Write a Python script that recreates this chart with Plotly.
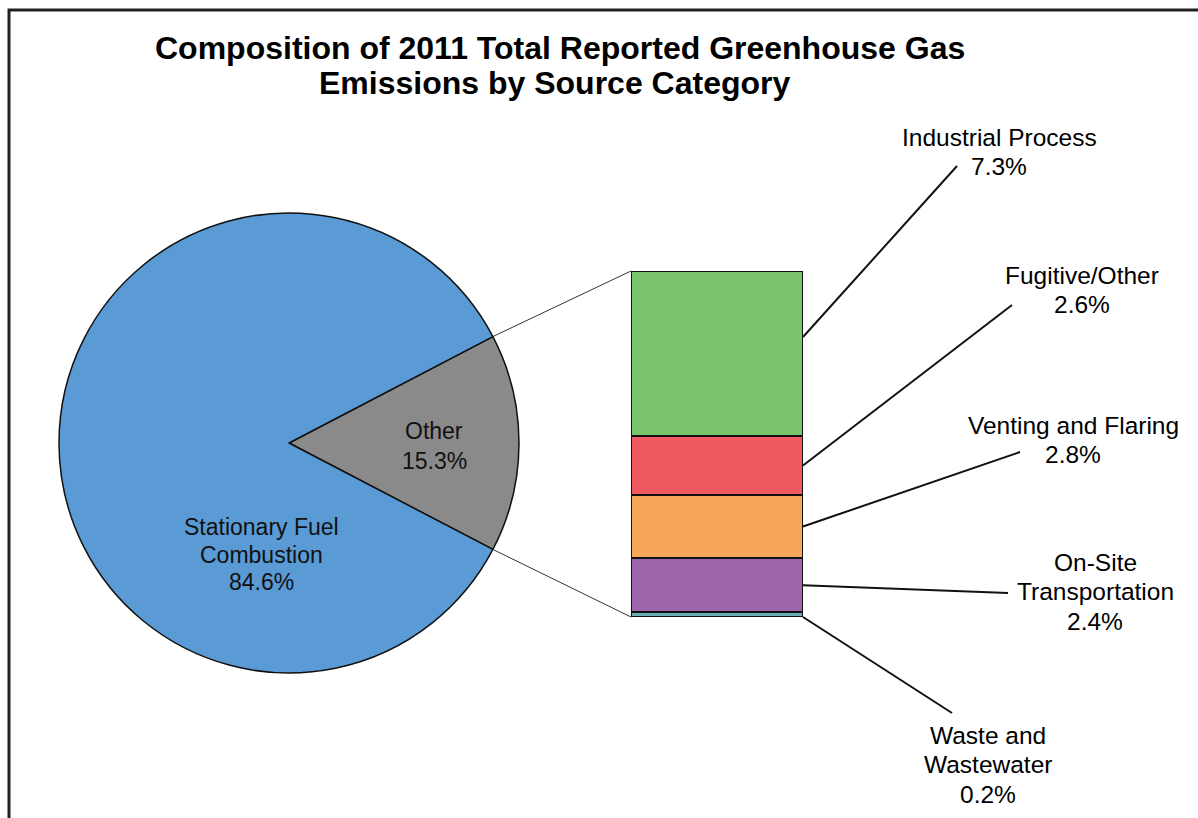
import math
import plotly.graph_objects as go

# ---- data -------------------------------------------------------------
pie_labels = ["Other", "Stationary Fuel Combustion"]
pie_values = [15.3, 84.6]
pie_colors = ["#8A8A8A", "#5B9BD5"]

other_labels = ["Industrial Process", "Fugitive/Other", "Venting and Flaring",
                "On-Site Transportation", "Waste and Wastewater"]
other_values = [7.3, 2.6, 2.8, 2.4, 0.2]
other_colors = ["#7BC46E", "#F0595F", "#F8A75A", "#9E66AA", "#6AAFB6"]

title_lines = ["Composition of 2011 Total Reported Greenhouse Gas",
               "Emissions by Source Category"]

# ---- layout (pixels in a 1198 x 818 canvas) ---------------------------
W, H = 1198, 818
PIE_CX, PIE_CY, PIE_R = 289, 443, 230
BAR_X0, BAR_X1, BAR_Y0, BAR_Y1 = 631, 803, 271, 617

FONT = "Liberation Sans, Arial, sans-serif"


def px(x):
    return x / W


def py(y):
    return 1 - y / H


other_total = sum(other_values)
pie_total = sum(pie_values)
other_angle = pie_values[0] / pie_total * 360.0
half = other_angle / 2.0

fig = go.Figure()

# pie: "Other" slice centred on the 3 o'clock direction
fig.add_trace(go.Pie(
    labels=pie_labels,
    values=pie_values,
    sort=False,
    direction="clockwise",
    rotation=90 - half,
    marker=dict(colors=pie_colors, line=dict(color="#111111", width=1.5)),
    textinfo="none",
    hoverinfo="label+percent",
    showlegend=False,
    domain=dict(x=[px(PIE_CX - PIE_R), px(PIE_CX + PIE_R)],
                y=[py(PIE_CY + PIE_R), py(PIE_CY - PIE_R)]),
))

# stacked breakdown bar of the "Other" slice
for lab, val, col in zip(other_labels, other_values, other_colors):
    fig.add_trace(go.Bar(
        x=[0], y=[val], name=lab, width=1,
        marker=dict(color=col, line=dict(color="#111111", width=2.2)),
        showlegend=False, xaxis="x", yaxis="y",
        hovertemplate=lab + ": %{y}%<extra></extra>",
    ))

shapes = []
annotations = []

# connectors from the "Other" slice edges to the bar corners
for sgn, by in ((1, BAR_Y0), (-1, BAR_Y1)):
    a = math.radians(half) * sgn
    sx = PIE_CX + PIE_R * math.cos(a)
    sy = PIE_CY - PIE_R * math.sin(a)
    shapes.append(dict(type="line", xref="paper", yref="paper",
                       x0=px(sx), y0=py(sy), x1=px(BAR_X0), y1=py(by),
                       line=dict(color="#333333", width=1)))


def bar_pix(v):
    return BAR_Y0 + (BAR_Y1 - BAR_Y0) * v / other_total


# label layout: (centre x, first line y, line end x, line end y, anchor fraction)
label_layout = [
    (999, 137, 957, 166, 0.40),
    (1082, 275, 1012, 305, 0.50),
    (1073, 425, 1020, 452, 0.50),
    (1095, 562, 1008, 593, 0.50),
    (988, 735, 952, 713, 1.00),
]
label_lines = [
    ["Industrial Process"],
    ["Fugitive/Other"],
    ["Venting and Flaring"],
    ["On-Site", "Transportation"],
    ["Waste and", "Wastewater"],
]

LINE_H = 29.5
cum = 0.0
for (cx, ly, ex, ey, frac), lines, val in zip(label_layout, label_lines, other_values):
    ay = bar_pix(cum + frac * val)
    cum += val
    shapes.append(dict(type="line", xref="paper", yref="paper",
                       x0=px(BAR_X1), y0=py(ay), x1=px(ex), y1=py(ey),
                       line=dict(color="#111111", width=2)))
    for i, t in enumerate(lines + [f"{val}%"]):
        annotations.append(dict(x=px(cx), y=py(ly + i * LINE_H), xref="paper", yref="paper",
                                text=t, showarrow=False, xanchor="center", yanchor="middle",
                                font=dict(family=FONT, size=24.5, color="#000000")))

# labels inside the pie
pie_text = [
    (434, 431, ["Other", f"{pie_values[0]}%"], 30),
    (261, 527, ["Stationary Fuel", "Combustion", f"{pie_values[1]}%"], 27.5),
]
for cx, ly, lines, lh in pie_text:
    for i, t in enumerate(lines):
        annotations.append(dict(x=px(cx), y=py(ly + i * lh), xref="paper", yref="paper",
                                text=t, showarrow=False, xanchor="center", yanchor="middle",
                                font=dict(family=FONT, size=23, color="#111111")))

# title
for i, (t, cx) in enumerate(zip(title_lines, (560, 554))):
    annotations.append(dict(x=px(cx), y=py(48 + i * 35), xref="paper", yref="paper",
                            text=f"<b>{t}</b>", showarrow=False, xanchor="center",
                            yanchor="middle",
                            font=dict(family=FONT, size=32, color="#000000")))

# chart frame
shapes.append(dict(type="rect", xref="paper", yref="paper",
                   x0=px(9), y0=-0.02, x1=1.02, y1=py(10),
                   line=dict(color="#222222", width=3)))

fig.update_layout(
    width=W, height=H,
    margin=dict(l=0, r=0, t=0, b=0),
    paper_bgcolor="white", plot_bgcolor="rgba(0,0,0,0)",
    barmode="stack", bargap=0,
    xaxis=dict(domain=[px(BAR_X0), px(BAR_X1)], range=[-0.5, 0.5], visible=False,
               fixedrange=True),
    yaxis=dict(domain=[py(BAR_Y1), py(BAR_Y0)], range=[other_total, 0], visible=False,
               fixedrange=True),
    shapes=shapes,
    annotations=annotations,
)

fig.write_html("out.html")
